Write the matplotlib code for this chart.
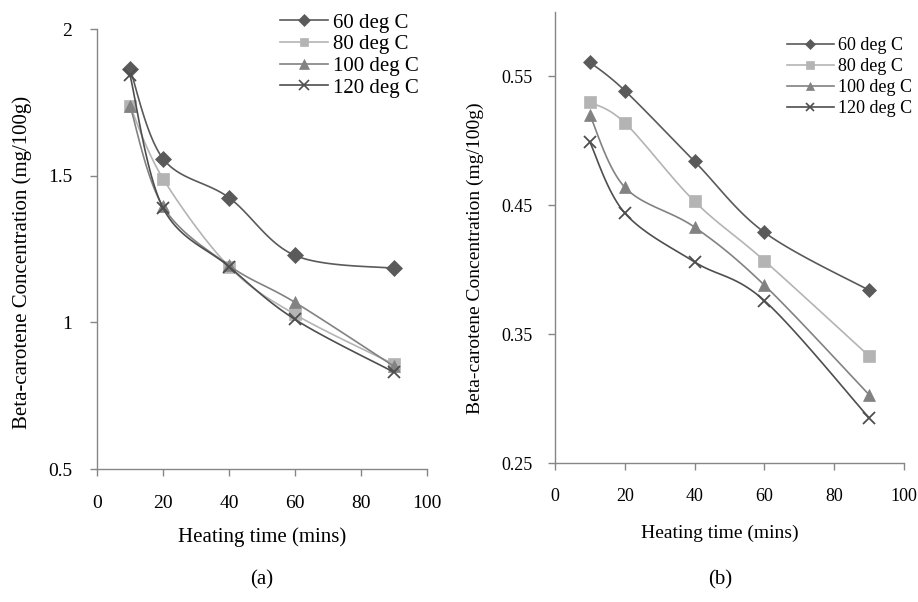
import numpy as np
import matplotlib
matplotlib.use("Agg")
import matplotlib.pyplot as plt

plt.rcParams['font.family'] = ['Liberation Serif', 'DejaVu Serif']

time_min = [10, 20, 40, 60, 90]
labels = ["60 deg C", "80 deg C", "100 deg C", "120 deg C"]

# panel (a)
a_60 = [1.864, 1.558, 1.425, 1.228, 1.184]
a_80 = [1.738, 1.490, 1.190, 1.027, 0.857]
a_100 = [1.738, 1.395, 1.194, 1.068, 0.850]
a_120 = [1.843, 1.390, 1.190, 1.010, 0.830]

# panel (b)
b_60 = [0.561, 0.539, 0.484, 0.429, 0.384]
b_80 = [0.530, 0.514, 0.453, 0.407, 0.333]
b_100 = [0.520, 0.464, 0.433, 0.388, 0.303]
b_120 = [0.499, 0.444, 0.406, 0.376, 0.285]

colors = ["#5a5a5a", "#b4b4b4", "#828282", "#4e4e4e"]
markers = ["D", "s", "^", "x"]


def smooth(ax, xs, ys):
    # excel style smoothed line: bezier through the points, built in pixel space
    px = ax.transData.transform(np.column_stack([xs, ys]).astype(float))
    n = len(px)
    out = [px[0]]
    t = np.linspace(0, 1, 25)[1:]
    for i in range(n - 1):
        p0 = px[i - 1] if i > 0 else px[i]
        p1 = px[i]
        p2 = px[i + 1]
        p3 = px[i + 2] if i + 2 < n else px[i + 1]
        c1 = p1 + (p2 - p0) / 6.0
        c2 = p2 - (p3 - p1) / 6.0
        for tt in t:
            pt = ((1 - tt) ** 3) * p1 + 3 * ((1 - tt) ** 2) * tt * c1 \
                + 3 * (1 - tt) * tt ** 2 * c2 + tt ** 3 * p2
            out.append(pt)
    return ax.transData.inverted().transform(np.array(out))


fig = plt.figure(figsize=(9.18, 6.02), dpi=100)
W, H = 918.0, 602.0
ax1 = fig.add_axes([97 / W, 1 - 469 / H, 330 / W, 440 / H])
ax2 = fig.add_axes([555 / W, 1 - 463 / H, 349 / W, 451 / H])

panels = [
    (ax1, [a_60, a_80, a_100, a_120], (0.5, 2.0), [0.5, 1, 1.5, 2], ["0.5", "1", "1.5", "2"],
     14, 15, [8, 8, 9, 9], 13, 14),
    (ax2, [b_60, b_80, b_100, b_120], (0.25, 0.6), [0.25, 0.35, 0.45, 0.55], ["0.25", "0.35", "0.45", "0.55"],
     13, 14, [7, 8, 8, 8], 11, 13),
]

for ax, series, ylim, yt, ytl, tfs, lfs, msizes, ypad, xpad in panels:
    ax.set_xlim(0, 100)
    ax.set_ylim(*ylim)
    ax.set_xticks([0, 20, 40, 60, 80, 100])
    ax.set_yticks(yt)
    ax.set_yticklabels(ytl)
    for s in ["top", "right"]:
        ax.spines[s].set_visible(False)
    for s in ["left", "bottom"]:
        ax.spines[s].set_color("#868686")
        ax.spines[s].set_linewidth(1.0)
    ax.tick_params(colors="#868686", labelcolor="black", labelsize=tfs, length=5, width=1)
    ax.tick_params(axis="y", pad=ypad)
    ax.tick_params(axis="x", pad=xpad)
    ax.set_xlabel("Heating time (mins)", fontsize=lfs)
    ax.set_ylabel("Beta-carotene Concentration (mg/100g)", fontsize=lfs)
    for ys, c, m, ms, lab in zip(series, colors, markers, msizes, labels):
        pts = smooth(ax, time_min, ys)
        ax.plot(pts[:, 0], pts[:, 1], color=c, lw=1.2)
        ax.plot(time_min, ys, linestyle="none", marker=m, color=c, markersize=ms,
                markeredgewidth=1.3 if m == "x" else 0.5)
        ax.plot([], [], color=c, lw=1.2, marker=m, markersize=ms - 2,
                markeredgewidth=1.2 if m == "x" else 0.5, label=lab)

ax1.legend(loc="upper left", bbox_to_anchor=(280 / W, 1 - 13 / H), bbox_transform=fig.transFigure,
           frameon=False, fontsize=15, handlelength=2.3, handletextpad=0.25,
           labelspacing=0.1, borderpad=0, borderaxespad=0)
ax2.legend(loc="upper left", bbox_to_anchor=(787 / W, 1 - 37 / H), bbox_transform=fig.transFigure,
           frameon=False, fontsize=13, handlelength=2.6, handletextpad=0.25,
           labelspacing=0.22, borderpad=0, borderaxespad=0)

ax1.xaxis.set_label_coords(262 / W, 1 - 537 / H, transform=fig.transFigure)
ax1.yaxis.set_label_coords(22 / W, 1 - 262 / H, transform=fig.transFigure)
ax2.xaxis.set_label_coords(720 / W, 1 - 533 / H, transform=fig.transFigure)
ax2.yaxis.set_label_coords(475 / W, 1 - 258 / H, transform=fig.transFigure)
for lab in [ax1.xaxis.label, ax1.yaxis.label, ax2.xaxis.label, ax2.yaxis.label]:
    lab.set_va("center")

fig.text(262 / W, 1 - 580 / H, "(a)", ha="center", va="center", fontsize=15)
fig.text(720 / W, 1 - 580 / H, "(b)", ha="center", va="center", fontsize=15)

fig.savefig("out.png", dpi=100, facecolor="white")
